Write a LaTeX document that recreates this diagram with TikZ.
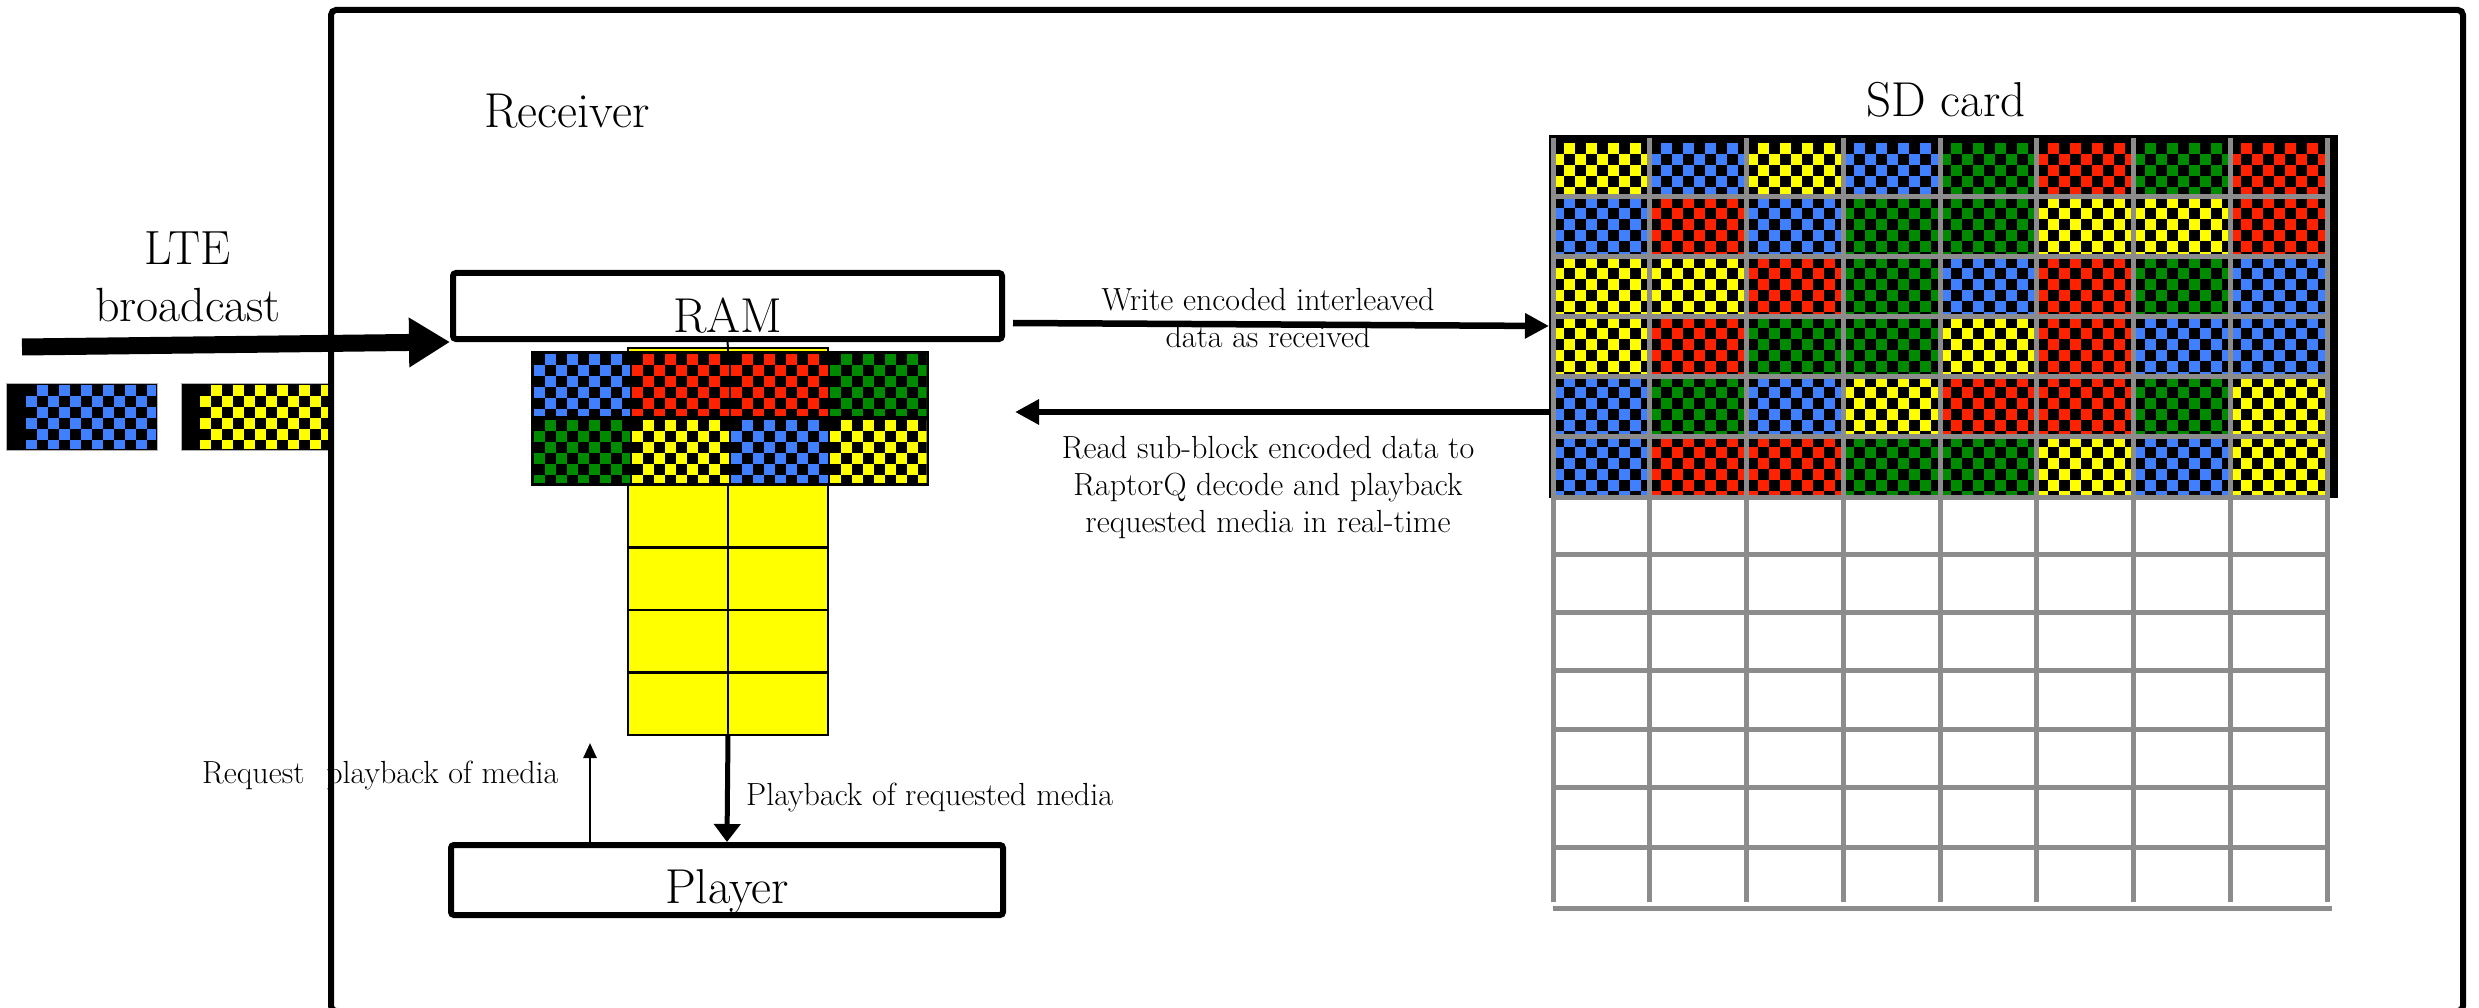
\documentclass[tikz,border=0pt]{standalone}
\usepackage{fontspec}
\usetikzlibrary{arrows.meta,calc}
\definecolor{cY}{HTML}{FFFF00}
\definecolor{cB}{HTML}{4080FF}
\definecolor{cR}{HTML}{FF2200}
\definecolor{cG}{HTML}{008A00}
\definecolor{gridgray}{HTML}{8C8C8C}
\newcommand\chk[5]{%
  \begin{scope}
    \clip (#1,#2) rectangle (#3,#4);
    \fill[#5] (#1,#2) rectangle (#3,#4);
    \pgfmathtruncatemacro\chknx{(#3-#1)/11}
    \foreach \ci in {0,...,\chknx}{%
      \pgfmathtruncatemacro\chkoff{mod(\ci,2)}
      \foreach \cj in {0,2,...,6}{%
        \fill[black] ({#1+\ci*11},{#2+(\cj+\chkoff)*11}) rectangle ++(11,11);
      }
    }
  \end{scope}}
\begin{document}
\begin{tikzpicture}[x=1pt,y=-1pt,
  bigf/.style={font=\fontsize{49}{58}\selectfont},
  ltef/.style={font=\fontsize{48}{57}\selectfont},
  smallf/.style={font=\fontsize{32}{37}\selectfont},
  box/.style={draw, line width=6pt, fill=white, inner sep=0pt, rounded corners=3pt, bigf},
  txt/.style={inner sep=0pt},
  fatarrow/.style={line width=17pt, -{Triangle[length=41pt,width=47pt]}},
  midarrow/.style={line width=6.5pt, -{Triangle[length=24pt,width=24pt]}},
  downarrow/.style={line width=5pt, -{Triangle[length=18pt,width=26pt]}},
  uparrow/.style={line width=2.5pt, -{Triangle[length=15pt,width=13pt]}},
  sdline/.style={draw=gridgray, line width=5pt},
  cellline/.style={line width=2.5pt}]
\useasboundingbox (0,0) rectangle (2479,1008);
\fill[white] (0,0) rectangle (2479,1008);

% labels
\node[txt, bigf, anchor=base] (receiver) at (567,128) {Receiver};
\node[txt, bigf, anchor=base] (sdlabel) at (1946,117) {SD card};
\node[txt, ltef, align=center] (lte) at (188,277.1) {LTE\\broadcast};
\node[txt, smallf, anchor=base west] (reqlabel) at (202,783) {Request\hspace{12pt} playback of media};
\node[txt, smallf, anchor=base west] (pblabel) at (746,805) {Playback of requested media};
\node[txt, smallf, align=center] (wlabel) at (1268,318.4) {Write encoded interleaved\\data as received};
\node[txt, smallf, align=center] (rlabel) at (1268,488) {Read sub-block encoded data to\\RaptorQ decode and playback\\requested media in real-time};

% incoming packets
\fill[black] (6,383) rectangle (157,450);
\chk{26}{385}{156}{449}{cB}
\draw[gray!60, line width=1pt] (6,383) rectangle (157,450);
\fill[black] (181,383) rectangle (331,450);
\chk{200}{385}{331}{449}{cY}
\draw[gray!60, line width=1pt] (181,383) rectangle (331,450);

% receiver frame
\draw[line width=6pt, rounded corners=5pt] (331,10) rectangle (2463,1011);

% buffer column below RAM
\node[draw, line width=2.5pt, fill=cY, minimum width=200pt, minimum height=387pt, inner sep=0pt, outer sep=0pt] (buf) at (728,541.5) {};
\draw[cellline] (728,348) -- (728,735);
\foreach \yy in {547.5,610,672.5} \draw[cellline] (628,\yy) -- (828,\yy);

% RAM coloured grid
\fill[black] (532,352) rectangle (928,485);
\chk{533.5}{354}{630}{416}{cB}
\chk{631.5}{354}{729}{416}{cR}
\chk{730.5}{354}{828}{416}{cR}
\chk{829.5}{354}{926.5}{416}{cG}
\chk{533.5}{420}{630}{483}{cG}
\chk{631.5}{420}{729}{483}{cY}
\chk{730.5}{420}{828}{483}{cB}
\chk{829.5}{420}{926.5}{483}{cY}
\draw[cellline] (532,352) rectangle (928,485);

% boxes
\node[box, minimum width=549pt, minimum height=66pt, text height=54pt, text depth=0pt] (ram) at (727.5,306) {RAM};
\node[box, minimum width=552pt, minimum height=70pt, text height=46pt, text depth=0pt] (player) at (727,880) {Player};

% SD card
\node[inner sep=0pt, outer sep=0pt, minimum width=789pt, minimum height=773pt] (sd) at (1943.5,521.5) {};
\fill[black] (1549,135) rectangle (2338,498);
\foreach \rowlist [count=\rr from 0] in {{Y,B,Y,B,G,R,G,R},{B,R,B,G,G,Y,Y,R},{Y,Y,R,G,B,R,G,B},{Y,R,G,G,Y,R,B,B},{B,G,B,Y,R,R,G,Y},{B,R,R,G,G,Y,B,Y}}{
  \foreach \col [count=\cc from 0] in \rowlist {
    \pgfmathsetmacro\xa{1553+\cc*96.75}
    \pgfmathsetmacro\xb{\xa+96.75}
    \pgfmathsetmacro\ya{{143,197,257,317,376,436}[\rr]}
    \pgfmathsetmacro\yb{{197,257,317,376,436,497}[\rr]}
    \chk{\xa}{\ya}{\xb}{\yb}{c\col}
  }
}
\foreach \cc in {0,...,8} \draw[sdline] ({1553+\cc*96.75},138) -- ({1553+\cc*96.75},902);
\foreach \yy in {197,257,317,376,436,497,554,612,670,729,787,847} \draw[sdline] (1551,\yy) -- (2330,\yy);
\draw[sdline] (1553,908) -- (2332,908);

% connectors
\coordinate (ltestart) at (22,347);
\draw[fatarrow] (ltestart) -- (ram.south west);
\draw[line width=2pt] (ram.south) -- (buf.north);
\draw[midarrow] ([shift={(8pt,-17pt)}]ram.east) -- ([yshift=-191pt]sd.north west);
\draw[midarrow] ([yshift=-277pt]sd.north west) -- ([shift={(10pt,-106pt)}]ram.east);
\draw[downarrow] (buf.south) -- (player.north);
\coordinate (reqtip) at (590,743);
\draw[uparrow] ([xshift=-137pt]player.north) -- (reqtip);
\end{tikzpicture}
\end{document}
